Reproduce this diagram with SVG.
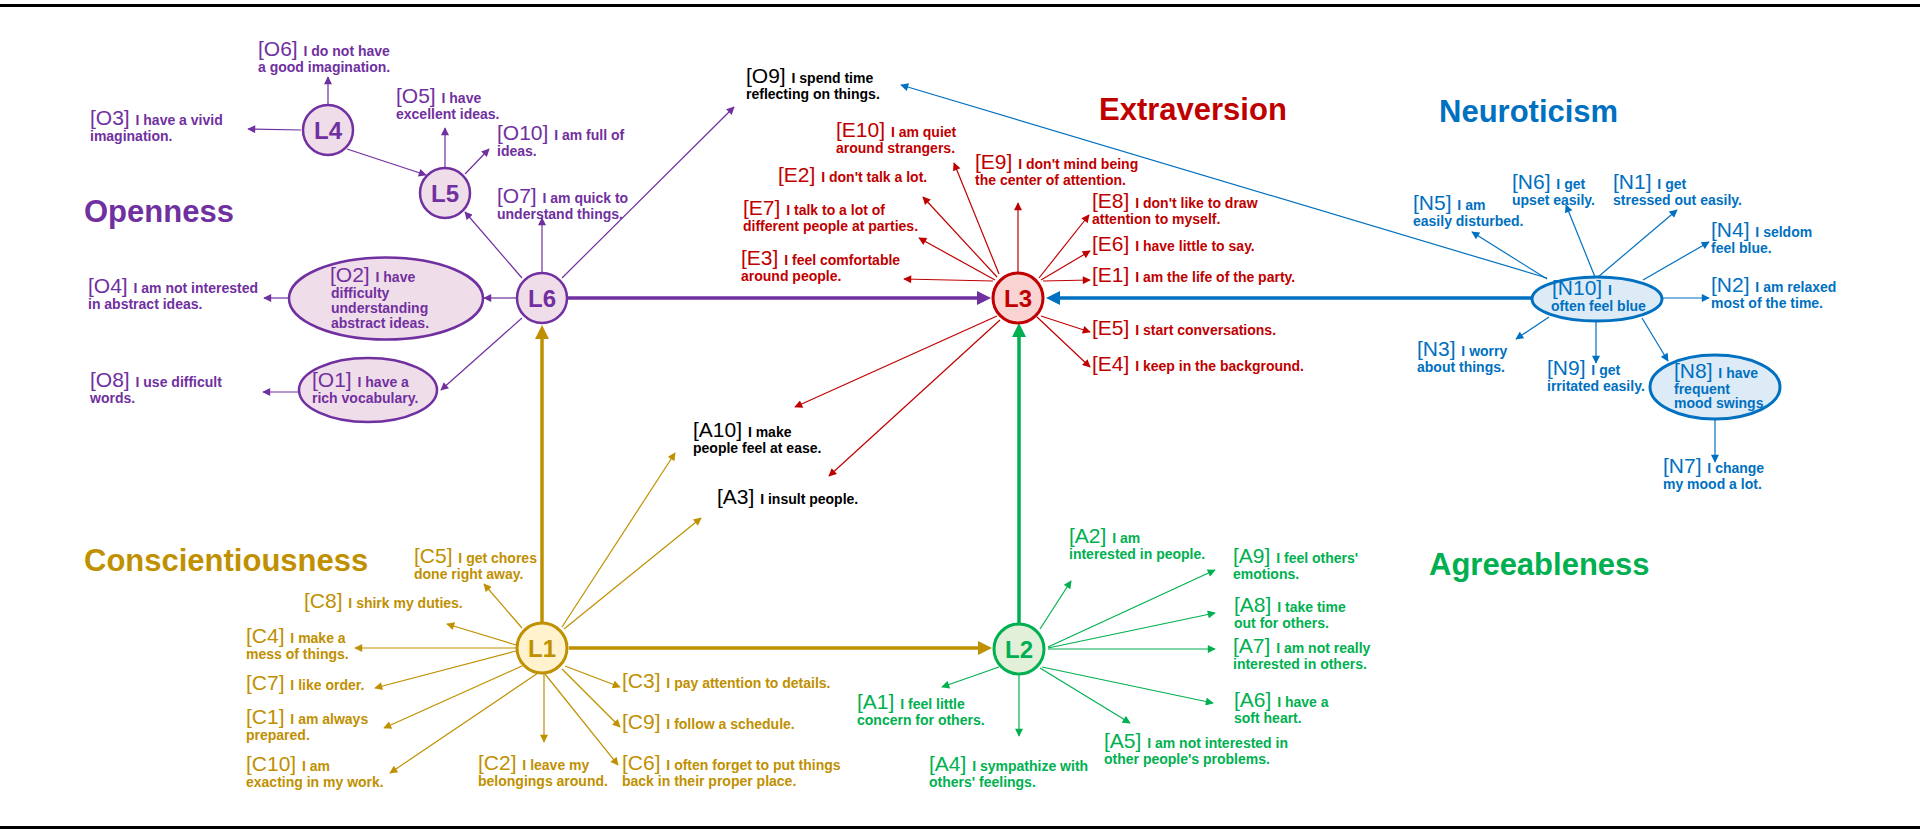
<svg xmlns="http://www.w3.org/2000/svg" width="1920" height="834" viewBox="0 0 1920 834">
<style>
text{font-family:"Liberation Sans",Arial,sans-serif}
.c{font-size:21px}
.b{font-size:14px;font-weight:bold}
.ttl{font-size:31px;font-weight:bold}
.lb{font-size:24px;font-weight:bold;text-anchor:middle}
.op{fill:#7030A0}.ex{fill:#C00000}.ne{fill:#0070C0}.co{fill:#BF9000}.ag{fill:#00B050}.bk{fill:#000}
.tp{stroke:#7030A0;stroke-width:1.2;fill:none;marker-end:url(#mp)}
.tr{stroke:#C00000;stroke-width:1.2;fill:none;marker-end:url(#mr)}
.tb{stroke:#0070C0;stroke-width:1.2;fill:none;marker-end:url(#mb)}
.tg{stroke:#BF9000;stroke-width:1.2;fill:none;marker-end:url(#mg)}
.tn{stroke:#00B050;stroke-width:1.2;fill:none;marker-end:url(#mn)}
.M{stroke-width:3.5;fill:none}
</style>
<defs>
<marker id="mp" viewBox="0 0 10 10" refX="9" refY="5" markerWidth="9" markerHeight="8" markerUnits="userSpaceOnUse" orient="auto"><path d="M0,0L10,5L0,10z" fill="#7030A0"/></marker>
<marker id="mr" viewBox="0 0 10 10" refX="9" refY="5" markerWidth="9" markerHeight="8" markerUnits="userSpaceOnUse" orient="auto"><path d="M0,0L10,5L0,10z" fill="#C00000"/></marker>
<marker id="mb" viewBox="0 0 10 10" refX="9" refY="5" markerWidth="9" markerHeight="8" markerUnits="userSpaceOnUse" orient="auto"><path d="M0,0L10,5L0,10z" fill="#0070C0"/></marker>
<marker id="mg" viewBox="0 0 10 10" refX="9" refY="5" markerWidth="9" markerHeight="8" markerUnits="userSpaceOnUse" orient="auto"><path d="M0,0L10,5L0,10z" fill="#BF9000"/></marker>
<marker id="mn" viewBox="0 0 10 10" refX="9" refY="5" markerWidth="9" markerHeight="8" markerUnits="userSpaceOnUse" orient="auto"><path d="M0,0L10,5L0,10z" fill="#00B050"/></marker>
<marker id="Mp" viewBox="0 0 10 10" refX="2" refY="5" markerWidth="14" markerHeight="14" markerUnits="userSpaceOnUse" orient="auto"><path d="M0,0L10,5L0,10z" fill="#7030A0"/></marker>
<marker id="Mb" viewBox="0 0 10 10" refX="2" refY="5" markerWidth="14" markerHeight="14" markerUnits="userSpaceOnUse" orient="auto"><path d="M0,0L10,5L0,10z" fill="#0070C0"/></marker>
<marker id="Mg" viewBox="0 0 10 10" refX="2" refY="5" markerWidth="14" markerHeight="14" markerUnits="userSpaceOnUse" orient="auto"><path d="M0,0L10,5L0,10z" fill="#BF9000"/></marker>
<marker id="Mn" viewBox="0 0 10 10" refX="2" refY="5" markerWidth="14" markerHeight="14" markerUnits="userSpaceOnUse" orient="auto"><path d="M0,0L10,5L0,10z" fill="#00B050"/></marker>
</defs>
<rect width="1920" height="834" fill="#fff"/>
<line x1="0" y1="5.5" x2="1920" y2="5.5" stroke="#000" stroke-width="3"/>
<line x1="0" y1="827.5" x2="1920" y2="827.5" stroke="#000" stroke-width="3"/>

<g id="titles">
<text class="ttl op" x="84" y="222">Openness</text>
<text class="ttl ex" x="1099" y="120">Extraversion</text>
<text class="ttl ne" x="1439" y="122">Neuroticism</text>
<text class="ttl co" x="84" y="571">Conscientiousness</text>
<text class="ttl ag" x="1429" y="575">Agreeableness</text>
</g>

<g id="connectors">
<line class="M" stroke="#7030A0" marker-end="url(#Mp)" x1="568" y1="298" x2="979.8" y2="298"/>
<line class="M" stroke="#0070C0" marker-end="url(#Mb)" x1="1532" y1="298" x2="1057.2" y2="298"/>
<line class="M" stroke="#00B050" marker-end="url(#Mn)" x1="1019" y1="623" x2="1019" y2="334.2"/>
<line class="M" stroke="#BF9000" marker-end="url(#Mg)" x1="542" y1="622" x2="542" y2="336.2"/>
<line class="M" stroke="#BF9000" marker-end="url(#Mg)" x1="569" y1="648" x2="980.8" y2="648"/>
<line class="tp" x1="328" y1="104" x2="328" y2="77"/>
<line class="tp" x1="301" y1="130" x2="248" y2="129"/>
<line class="tp" x1="347" y1="149" x2="426" y2="175"/>
<line class="tp" x1="445" y1="167" x2="445" y2="128"/>
<line class="tp" x1="465" y1="174" x2="489" y2="149"/>
<line class="tp" x1="522" y1="278" x2="465" y2="212"/>
<line class="tp" x1="542" y1="272" x2="542" y2="218"/>
<line class="tp" x1="562" y1="278" x2="734" y2="107"/>
<line class="tp" x1="516" y1="298" x2="484" y2="298"/>
<line class="tp" x1="288" y1="298" x2="264" y2="298"/>
<line class="tp" x1="522" y1="318" x2="441" y2="390"/>
<line class="tp" x1="299" y1="392" x2="263" y2="392"/>
<line class="tr" x1="999" y1="274" x2="954" y2="163"/>
<line class="tr" x1="997" y1="277" x2="923" y2="197"/>
<line class="tr" x1="1018" y1="272" x2="1018" y2="203"/>
<line class="tr" x1="995" y1="280" x2="919" y2="238"/>
<line class="tr" x1="993" y1="281" x2="904" y2="279"/>
<line class="tr" x1="1039" y1="278" x2="1089" y2="215"/>
<line class="tr" x1="1041" y1="280" x2="1090" y2="251"/>
<line class="tr" x1="1043" y1="281" x2="1090" y2="280"/>
<line class="tr" x1="1041" y1="316" x2="1090" y2="332"/>
<line class="tr" x1="1037" y1="317" x2="1090" y2="367"/>
<line class="tr" x1="997" y1="316" x2="795" y2="407"/>
<line class="tr" x1="1000" y1="320" x2="829" y2="476"/>
<line class="tb" x1="1547" y1="278" x2="901" y2="85"/>
<line class="tb" x1="1547" y1="279" x2="1472" y2="232"/>
<line class="tb" x1="1595" y1="277" x2="1566" y2="205"/>
<line class="tb" x1="1598" y1="277" x2="1677" y2="210"/>
<line class="tb" x1="1643" y1="280" x2="1709" y2="242"/>
<line class="tb" x1="1662" y1="298" x2="1709" y2="298"/>
<line class="tb" x1="1549" y1="317" x2="1516" y2="339"/>
<line class="tb" x1="1596" y1="321" x2="1596" y2="363"/>
<line class="tb" x1="1642" y1="318" x2="1668" y2="361"/>
<line class="tb" x1="1715" y1="419" x2="1715" y2="462"/>
<line class="tg" x1="522" y1="628" x2="484" y2="584"/>
<line class="tg" x1="516" y1="645" x2="447" y2="624"/>
<line class="tg" x1="516" y1="648" x2="355" y2="648"/>
<line class="tg" x1="516" y1="651" x2="375" y2="688"/>
<line class="tg" x1="522" y1="666" x2="384" y2="728"/>
<line class="tg" x1="538" y1="673" x2="390" y2="773"/>
<line class="tg" x1="544" y1="674" x2="544" y2="742"/>
<line class="tg" x1="565" y1="666" x2="620" y2="687"/>
<line class="tg" x1="562" y1="669" x2="620" y2="727"/>
<line class="tg" x1="545" y1="674" x2="618" y2="765"/>
<line class="tg" x1="562" y1="627" x2="675" y2="453"/>
<line class="tg" x1="564" y1="629" x2="701" y2="518"/>
<line class="tn" x1="1040" y1="629" x2="1071" y2="581"/>
<line class="tn" x1="1048" y1="647" x2="1215" y2="570"/>
<line class="tn" x1="1048" y1="648" x2="1215" y2="613"/>
<line class="tn" x1="1048" y1="649" x2="1215" y2="649"/>
<line class="tn" x1="1042" y1="667" x2="1213" y2="703"/>
<line class="tn" x1="1040" y1="668" x2="1130" y2="723"/>
<line class="tn" x1="1019" y1="675" x2="1019" y2="736"/>
<line class="tn" x1="999" y1="667" x2="942" y2="687"/>
</g>

<g id="L4"><circle cx="328" cy="130" r="25" fill="#F0DDEA" stroke="#7030A0" stroke-width="2.5"/><text class="lb op" x="328" y="138.5">L4</text></g>
<g id="L5"><circle cx="445" cy="193" r="25" fill="#F0DDEA" stroke="#7030A0" stroke-width="2.5"/><text class="lb op" x="445" y="201.5">L5</text></g>
<g id="L6"><circle cx="542" cy="298" r="25" fill="#F0DDEA" stroke="#7030A0" stroke-width="2.5"/><text class="lb op" x="542" y="306.5">L6</text></g>
<g id="L3"><circle cx="1018" cy="298" r="25" fill="#FAD3D3" stroke="#C00000" stroke-width="3"/><text class="lb ex" x="1018" y="306.5">L3</text></g>
<g id="L1"><circle cx="542" cy="648" r="25" fill="#FFF2CC" stroke="#BF9000" stroke-width="3"/><text class="lb co" x="542" y="656.5">L1</text></g>
<g id="L2"><circle cx="1019" cy="649" r="25" fill="#E2F0D9" stroke="#00B050" stroke-width="3"/><text class="lb ag" x="1019" y="657.5">L2</text></g>

<g id="O6"><text class="op" x="258" y="56"><tspan class="c">[O6] </tspan><tspan class="b">I do not have</tspan><tspan class="b" x="258" y="71.5">a good imagination.</tspan></text></g>
<g id="O3"><text class="op" x="90" y="125"><tspan class="c">[O3] </tspan><tspan class="b">I have a vivid</tspan><tspan class="b" x="90" y="140.5">imagination.</tspan></text></g>
<g id="O5"><text class="op" x="396" y="103"><tspan class="c">[O5] </tspan><tspan class="b">I have</tspan><tspan class="b" x="396" y="118.5">excellent ideas.</tspan></text></g>
<g id="O10"><text class="op" x="497" y="140"><tspan class="c">[O10] </tspan><tspan class="b">I am full of</tspan><tspan class="b" x="497" y="156">ideas.</tspan></text></g>
<g id="O7"><text class="op" x="497" y="203"><tspan class="c">[O7] </tspan><tspan class="b">I am quick to</tspan><tspan class="b" x="497" y="218.5">understand things.</tspan></text></g>
<g id="O2"><ellipse cx="386" cy="298.5" rx="97" ry="41" fill="#F0DDEA" stroke="#7030A0" stroke-width="2.5"/><text class="op" x="330" y="282"><tspan class="c">[O2] </tspan><tspan class="b">I have</tspan><tspan class="b" x="331" y="297.5">difficulty</tspan><tspan class="b" x="331" y="312.5">understanding</tspan><tspan class="b" x="331" y="327.5">abstract ideas.</tspan></text></g>
<g id="O4"><text class="op" x="88" y="293"><tspan class="c">[O4] </tspan><tspan class="b">I am not interested</tspan><tspan class="b" x="88" y="308.5">in abstract ideas.</tspan></text></g>
<g id="O1"><ellipse cx="368" cy="390" rx="69" ry="32" fill="#F0DDEA" stroke="#7030A0" stroke-width="2.5"/><text class="op" x="312" y="387"><tspan class="c">[O1] </tspan><tspan class="b">I have a</tspan><tspan class="b" x="312" y="402.5">rich vocabulary.</tspan></text></g>
<g id="O8"><text class="op" x="90" y="387"><tspan class="c">[O8] </tspan><tspan class="b">I use difficult</tspan><tspan class="b" x="90" y="402.5">words.</tspan></text></g>
<g id="O9"><text class="bk" x="746" y="83"><tspan class="c">[O9] </tspan><tspan class="b">I spend time</tspan><tspan class="b" x="746" y="98.5">reflecting on things.</tspan></text></g>

<g id="E10"><text class="ex" x="836" y="137"><tspan class="c">[E10] </tspan><tspan class="b">I am quiet</tspan><tspan class="b" x="836" y="152.5">around strangers.</tspan></text></g>
<g id="E2"><text class="ex" x="778" y="182"><tspan class="c">[E2] </tspan><tspan class="b">I don't talk a lot.</tspan></text></g>
<g id="E9"><text class="ex" x="975" y="169"><tspan class="c">[E9] </tspan><tspan class="b">I don't mind being</tspan><tspan class="b" x="975" y="184.5">the center of attention.</tspan></text></g>
<g id="E7"><text class="ex" x="743" y="215"><tspan class="c">[E7] </tspan><tspan class="b">I talk to a lot of</tspan><tspan class="b" x="743" y="231">different people at parties.</tspan></text></g>
<g id="E8"><text class="ex" x="1092" y="208"><tspan class="c">[E8] </tspan><tspan class="b">I don't like to draw</tspan><tspan class="b" x="1092" y="223.5">attention to myself.</tspan></text></g>
<g id="E6"><text class="ex" x="1092" y="251"><tspan class="c">[E6] </tspan><tspan class="b">I have little to say.</tspan></text></g>
<g id="E3"><text class="ex" x="741" y="265"><tspan class="c">[E3] </tspan><tspan class="b">I feel comfortable</tspan><tspan class="b" x="741" y="280.5">around people.</tspan></text></g>
<g id="E1"><text class="ex" x="1092" y="282"><tspan class="c">[E1] </tspan><tspan class="b">I am the life of the party.</tspan></text></g>
<g id="E5"><text class="ex" x="1092" y="335"><tspan class="c">[E5] </tspan><tspan class="b">I start conversations.</tspan></text></g>
<g id="E4"><text class="ex" x="1092" y="371"><tspan class="c">[E4] </tspan><tspan class="b">I keep in the background.</tspan></text></g>

<g id="N10"><ellipse cx="1597" cy="299" rx="65" ry="22" fill="#DDEBF7" stroke="#0070C0" stroke-width="3"/><text class="ne" x="1552" y="295"><tspan class="c">[N10] </tspan><tspan class="b">I</tspan><tspan class="b" x="1551" y="310.5">often feel blue</tspan></text></g>
<g id="N5"><text class="ne" x="1413" y="210"><tspan class="c">[N5] </tspan><tspan class="b">I am</tspan><tspan class="b" x="1413" y="225.5">easily disturbed.</tspan></text></g>
<g id="N6"><text class="ne" x="1512" y="189"><tspan class="c">[N6] </tspan><tspan class="b">I get</tspan><tspan class="b" x="1512" y="204.5">upset easily.</tspan></text></g>
<g id="N1"><text class="ne" x="1613" y="189"><tspan class="c">[N1] </tspan><tspan class="b">I get</tspan><tspan class="b" x="1613" y="204.5">stressed out easily.</tspan></text></g>
<g id="N4"><text class="ne" x="1711" y="237"><tspan class="c">[N4] </tspan><tspan class="b">I seldom</tspan><tspan class="b" x="1711" y="252.5">feel blue.</tspan></text></g>
<g id="N2"><text class="ne" x="1711" y="292"><tspan class="c">[N2] </tspan><tspan class="b">I am relaxed</tspan><tspan class="b" x="1711" y="307.5">most of the time.</tspan></text></g>
<g id="N3"><text class="ne" x="1417" y="356"><tspan class="c">[N3] </tspan><tspan class="b">I worry</tspan><tspan class="b" x="1417" y="371.5">about things.</tspan></text></g>
<g id="N9"><text class="ne" x="1547" y="375"><tspan class="c">[N9] </tspan><tspan class="b">I get</tspan><tspan class="b" x="1547" y="390.5">irritated easily.</tspan></text></g>
<g id="N8"><ellipse cx="1715" cy="387" rx="65" ry="32" fill="#DDEBF7" stroke="#0070C0" stroke-width="3"/><text class="ne" x="1674" y="378"><tspan class="c">[N8] </tspan><tspan class="b">I have</tspan><tspan class="b" x="1674" y="393.5">frequent</tspan><tspan class="b" x="1674" y="408">mood swings.</tspan></text></g>
<g id="N7"><text class="ne" x="1663" y="473"><tspan class="c">[N7] </tspan><tspan class="b">I change</tspan><tspan class="b" x="1663" y="488.5">my mood a lot.</tspan></text></g>

<g id="C5"><text class="co" x="414" y="563"><tspan class="c">[C5] </tspan><tspan class="b">I get chores</tspan><tspan class="b" x="414" y="578.5">done right away.</tspan></text></g>
<g id="C8"><text class="co" x="304" y="608"><tspan class="c">[C8] </tspan><tspan class="b">I shirk my duties.</tspan></text></g>
<g id="C4"><text class="co" x="246" y="643"><tspan class="c">[C4] </tspan><tspan class="b">I make a</tspan><tspan class="b" x="246" y="658.5">mess of things.</tspan></text></g>
<g id="C7"><text class="co" x="246" y="690"><tspan class="c">[C7] </tspan><tspan class="b">I like order.</tspan></text></g>
<g id="C1"><text class="co" x="246" y="724"><tspan class="c">[C1] </tspan><tspan class="b">I am always</tspan><tspan class="b" x="246" y="740">prepared.</tspan></text></g>
<g id="C10"><text class="co" x="246" y="771"><tspan class="c">[C10] </tspan><tspan class="b">I am</tspan><tspan class="b" x="246" y="786.5">exacting in my work.</tspan></text></g>
<g id="C2"><text class="co" x="478" y="770"><tspan class="c">[C2] </tspan><tspan class="b">I leave my</tspan><tspan class="b" x="478" y="785.5">belongings around.</tspan></text></g>
<g id="C3"><text class="co" x="622" y="688"><tspan class="c">[C3] </tspan><tspan class="b">I pay attention to details.</tspan></text></g>
<g id="C9"><text class="co" x="622" y="729"><tspan class="c">[C9] </tspan><tspan class="b">I follow a schedule.</tspan></text></g>
<g id="C6"><text class="co" x="622" y="770"><tspan class="c">[C6] </tspan><tspan class="b">I often forget to put things</tspan><tspan class="b" x="622" y="785.5">back in their proper place.</tspan></text></g>

<g id="A10"><text class="bk" x="693" y="437"><tspan class="c">[A10] </tspan><tspan class="b">I make</tspan><tspan class="b" x="693" y="453">people feel at ease.</tspan></text></g>
<g id="A3"><text class="bk" x="717" y="504"><tspan class="c">[A3] </tspan><tspan class="b">I insult people.</tspan></text></g>
<g id="A2"><text class="ag" x="1069" y="543"><tspan class="c">[A2] </tspan><tspan class="b">I am</tspan><tspan class="b" x="1069" y="558.5">interested in people.</tspan></text></g>
<g id="A9"><text class="ag" x="1233" y="563"><tspan class="c">[A9] </tspan><tspan class="b">I feel others'</tspan><tspan class="b" x="1233" y="578.5">emotions.</tspan></text></g>
<g id="A8"><text class="ag" x="1234" y="612"><tspan class="c">[A8] </tspan><tspan class="b">I take time</tspan><tspan class="b" x="1234" y="627.5">out for others.</tspan></text></g>
<g id="A7"><text class="ag" x="1233" y="653"><tspan class="c">[A7] </tspan><tspan class="b">I am not really</tspan><tspan class="b" x="1233" y="668.5">interested in others.</tspan></text></g>
<g id="A6"><text class="ag" x="1234" y="707"><tspan class="c">[A6] </tspan><tspan class="b">I have a</tspan><tspan class="b" x="1234" y="723">soft heart.</tspan></text></g>
<g id="A5"><text class="ag" x="1104" y="748"><tspan class="c">[A5] </tspan><tspan class="b">I am not interested in</tspan><tspan class="b" x="1104" y="763.5">other people's problems.</tspan></text></g>
<g id="A1"><text class="ag" x="857" y="709"><tspan class="c">[A1] </tspan><tspan class="b">I feel little</tspan><tspan class="b" x="857" y="724.5">concern for others.</tspan></text></g>
<g id="A4"><text class="ag" x="929" y="771"><tspan class="c">[A4] </tspan><tspan class="b">I sympathize with</tspan><tspan class="b" x="929" y="786.5">others' feelings.</tspan></text></g>
</svg>
